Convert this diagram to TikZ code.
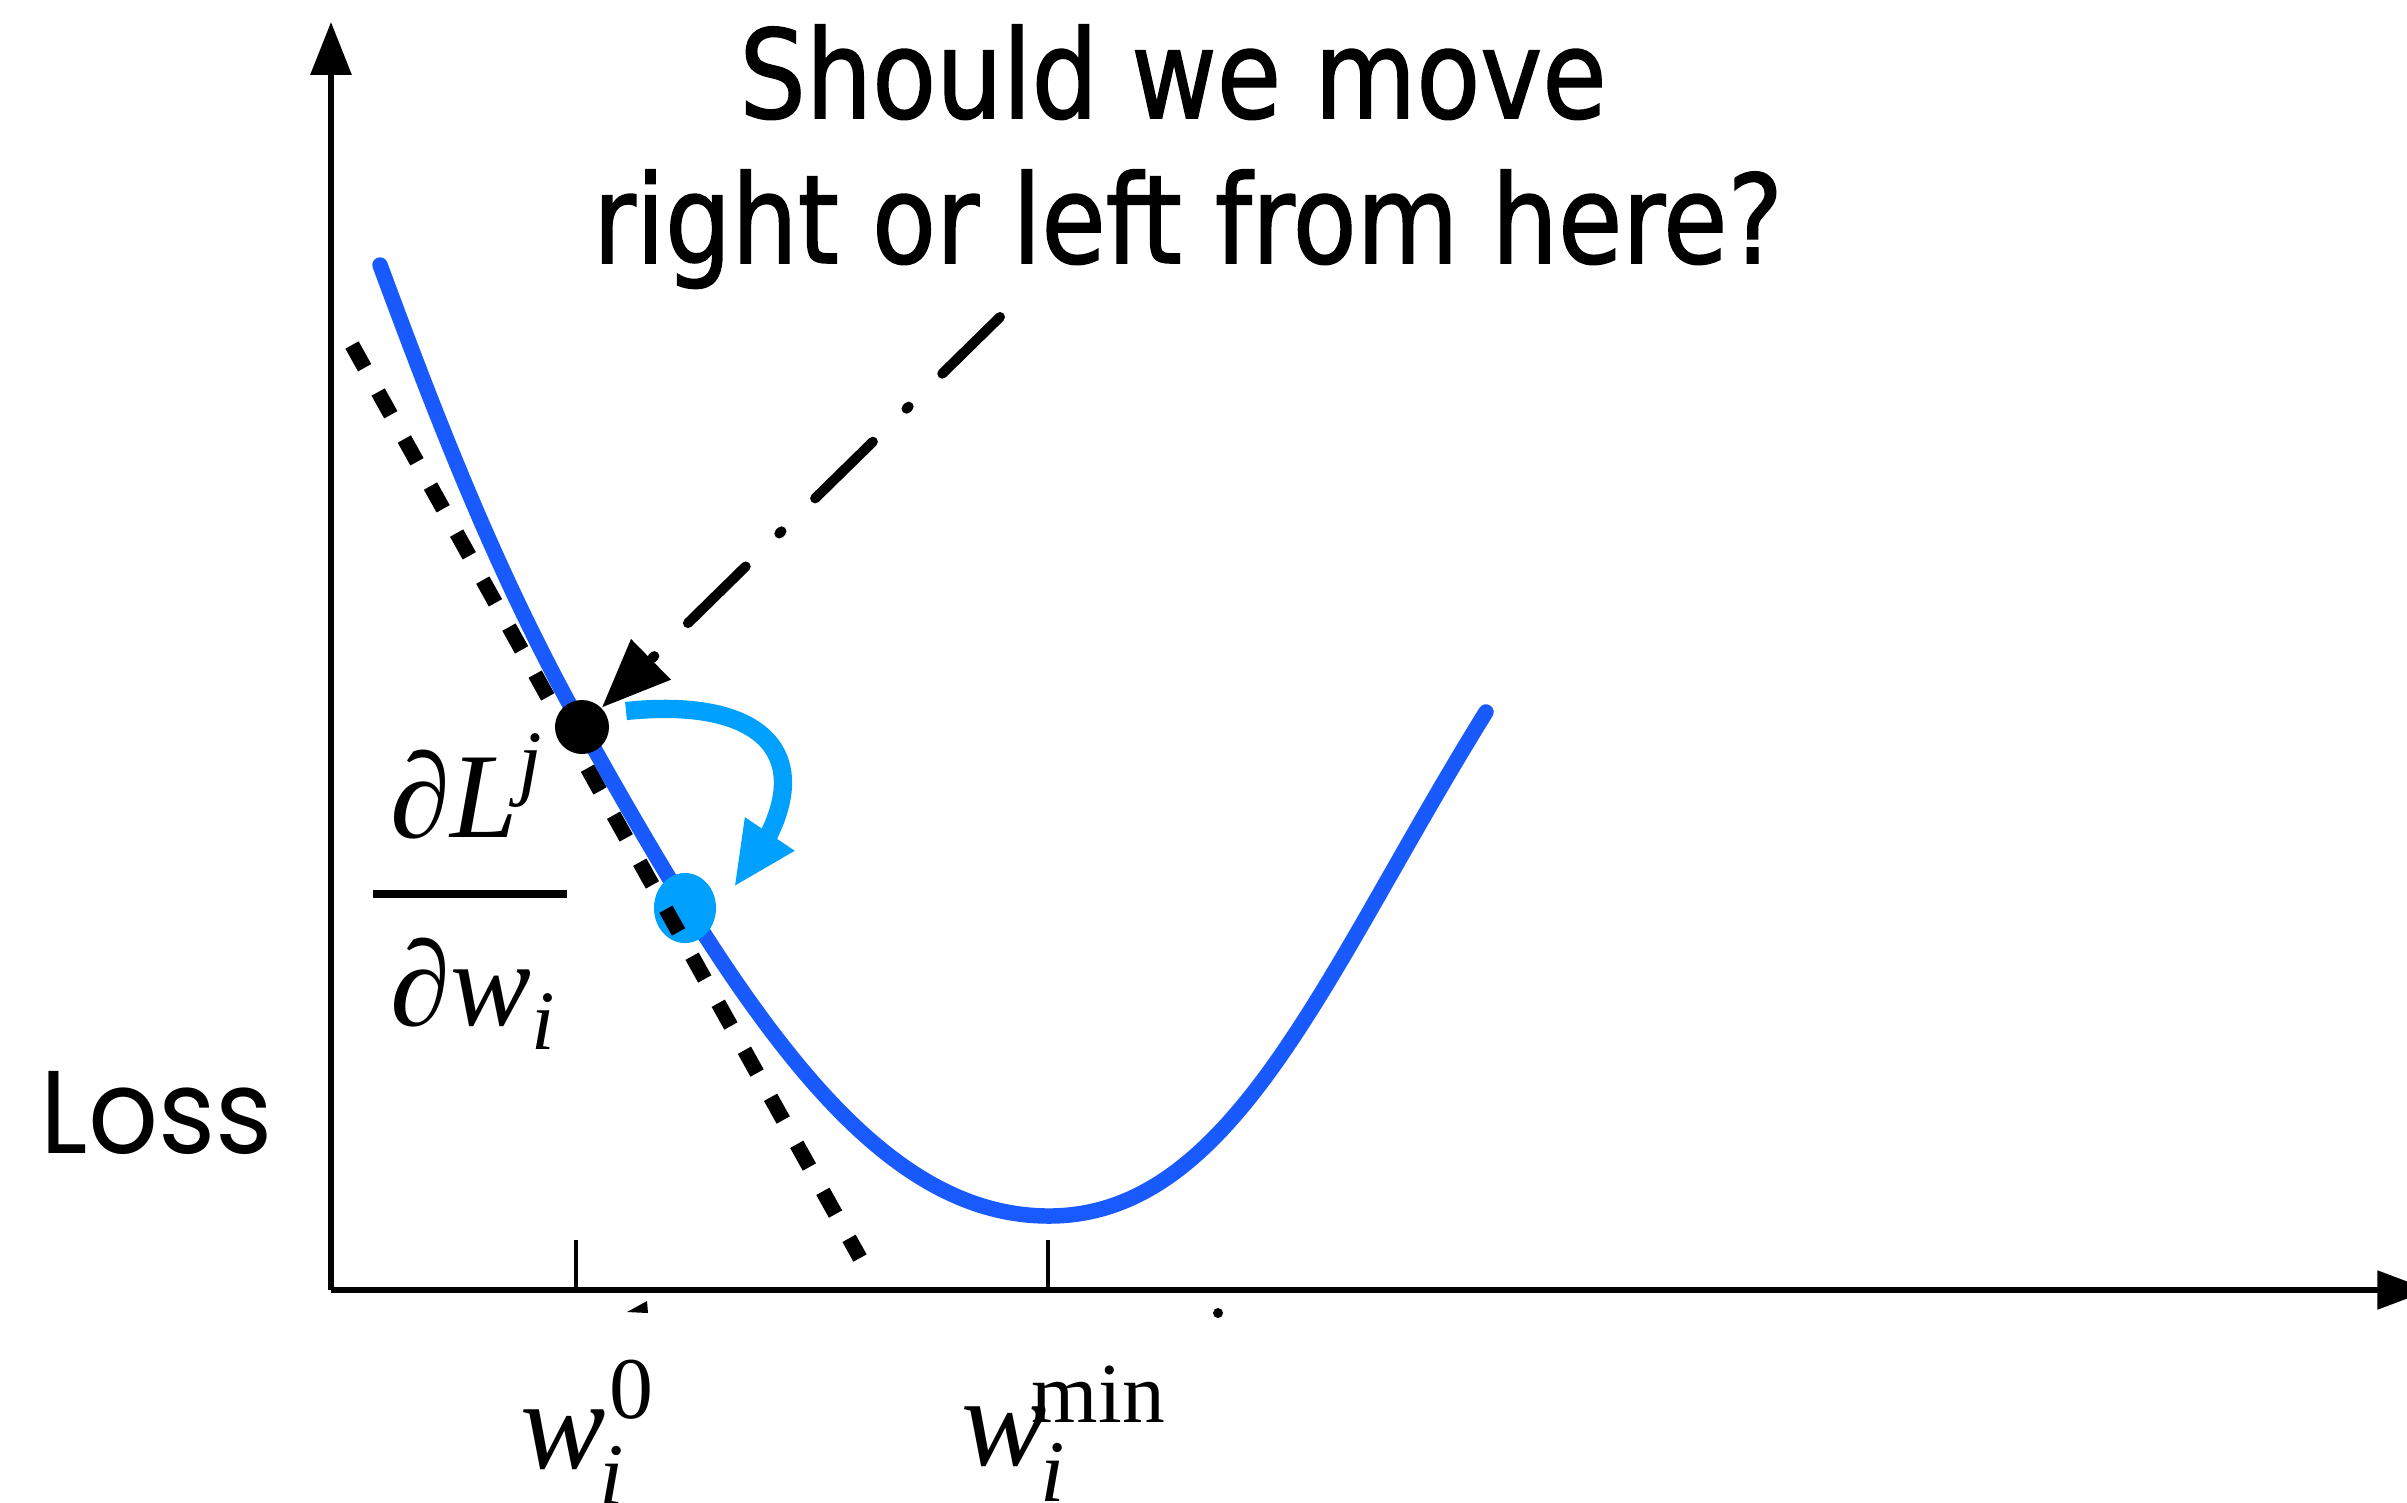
\documentclass[tikz,border=0pt]{standalone}
\usepackage{fontspec}
\usetikzlibrary{arrows.meta,shapes.geometric,bending}
\newfontfamily\qfont{DejaVu Sans}[FakeStretch=0.85,FakeBold=1.2]
\newfontfamily\lossfont{Poppins}[FakeStretch=0.93]
\newfontfamily\tms{Liberation Serif}
\newcommand{\supsz}{\fontsize{25}{25}\selectfont}
\newcommand{\minsz}{\fontsize{24.3}{25}\selectfont}
\newcommand{\fracsup}{\fontsize{24}{24}\selectfont}
\definecolor{lossblue}{RGB}{25,90,255}
\definecolor{stepcyan}{RGB}{0,160,255}
\tikzset{
  axis/.style={line width=1.56pt, black},
  tickmark/.style={line width=1.3pt, black},
  losscurve/.style={line width=4.4pt, lossblue, line cap=round},
  tangent/.style={line width=4.3pt, black, dash pattern=on 7.4pt off 7.9pt},
  qarrow/.style={line width=2.85pt, black, line cap=round,
     dash pattern=on 23pt off 13.4pt on 0.85pt off 13.4pt,
     -{Triangle[length=19.6pt,width=15.4pt]}},
  steparrow/.style={line width=5.2pt, stepcyan,
     -{Triangle[length=18.2pt,width=15.6pt]}},
  blackdot/.style={circle, fill=black, inner sep=0pt, minimum size=0.54cm},
  cyandot/.style={ellipse, fill=stepcyan, inner sep=0pt, minimum width=0.62cm, minimum height=0.70cm},
  qtext/.style={inner sep=0pt, font=\qfont\fontsize{35}{42}\selectfont},
  losstext/.style={inner sep=0pt, font=\lossfont\fontsize{33.5}{40}\selectfont},
  fractext/.style={inner sep=0pt, font=\tms\fontsize{34.5}{40}\selectfont},
  wtext/.style={inner sep=0pt, font=\tms\fontsize{36.4}{42}\selectfont},
  fracbar/.style={line width=2.3pt, black}
}
\begin{document}
\begin{tikzpicture}[x=0.01cm,y=-0.01cm]
\useasboundingbox (0,0) rectangle (2407,1502);
\clip (0,0) rectangle (2407,1502);

% axes
\coordinate (O) at (331,1290);
\coordinate (ytip) at (331,22);
\coordinate (xtip) at (2430,1290);
\draw[axis, -{Triangle[length=15pt,width=11.4pt]}] (O) -- (ytip);
\draw[axis, -{Triangle[length=15pt,width=10.8pt]}] (O) -- (xtip);
\draw[tickmark] (576,1240) -- (576,1290);
\draw[tickmark] (1048,1240) -- (1048,1290);

% loss curve
\draw[losscurve] (380,265) .. controls (437,419) and (496,573) .. (582,727)
  .. controls (749,1027) and (879,1216) .. (1049,1216)
  .. controls (1235,1216) and (1327,968) .. (1486,712);

% dots
\node[cyandot] (dot1) at (685,908) {};
\draw[tangent] (352,345) -- (860,1258);
\node[blackdot] (dot0) at (582,727) {};

% question arrow
\coordinate (qstart) at (1000,317);
\draw[qarrow] (qstart) -- (dot0);

% step arrow
\coordinate (sstart) at (626,711);
\coordinate (send) at (734,887);
\draw[steparrow] (sstart) .. controls (780,695) and (830,770) .. (send);

% texts
\node[qtext, anchor=base] (q1) at (1173,118) {Should we move};
\node[qtext, anchor=base] (q2) at (1188,263) {right or left from here?};
\node[losstext, anchor=base west] (loss) at (40,1153) {Loss};

\node[fractext, anchor=base west] (num) at (390,837)
  {\itshape ∂L\raisebox{13.4pt}{\fracsup j}};
\draw[fracbar] (373,894) -- (567,894);
\node[fractext, anchor=base west] (den) at (390,1025)
  {\itshape ∂w\raisebox{-7pt}{\fracsup i}};

\node[wtext, anchor=base west] (w0) at (520,1468)
  {\itshape w\rlap{\raisebox{14.2pt}{\upshape\supsz\kern1pt 0}}\raisebox{-10.5pt}{\supsz\kern-2pt i}};
\node[wtext, anchor=base west] (wmin) at (961,1465)
  {\itshape w\rlap{\raisebox{12pt}{\upshape\minsz\kern-4.3pt min}}\raisebox{-10.5pt}{\supsz\kern-2pt i}};

% small marks below the axis
\fill (627,1312) -- (647,1301) -- (648,1313) -- cycle;
\fill (1218,1313) circle (5);
\end{tikzpicture}
\end{document}
